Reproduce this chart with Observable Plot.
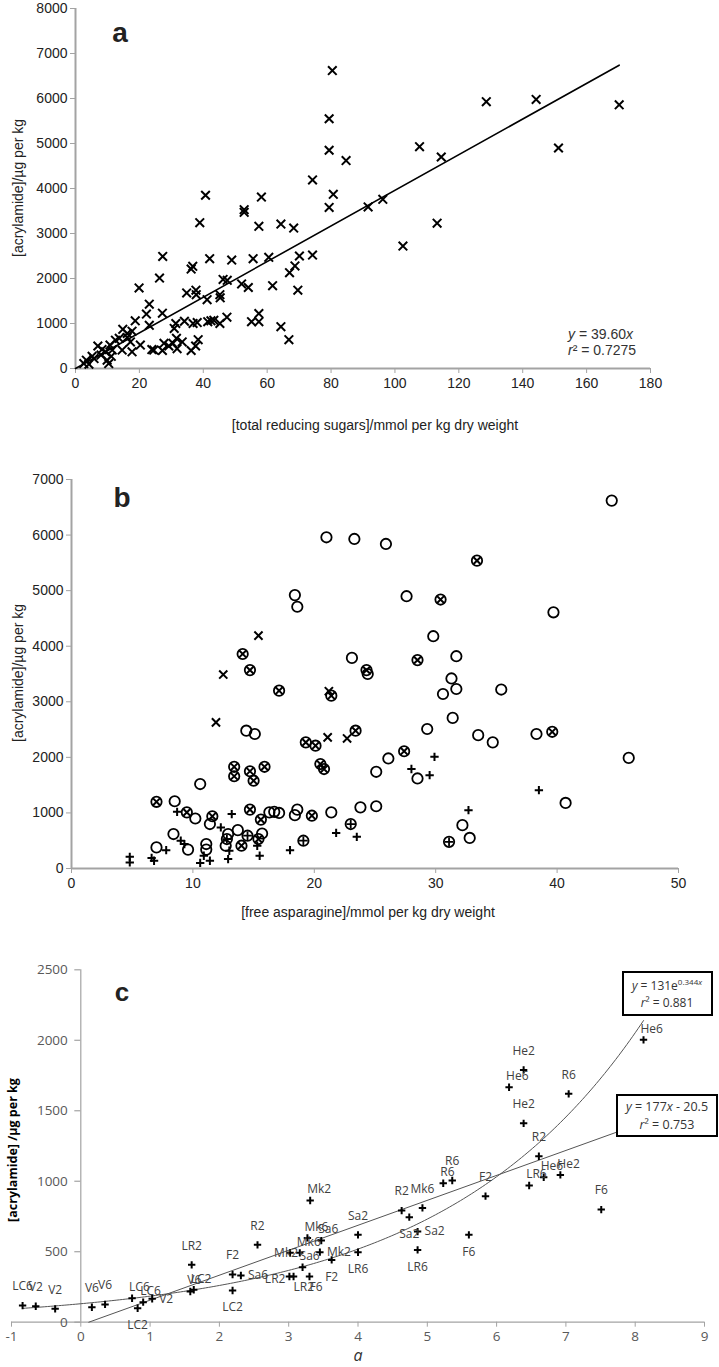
<!DOCTYPE html>
<html><head><meta charset="utf-8">
<script src="https://cdn.jsdelivr.net/npm/d3@7"></script>
<script src="https://cdn.jsdelivr.net/npm/@observablehq/plot@0.6"></script>
<style>
body{margin:0;background:#fff;}
#wrap{position:relative;width:719px;height:1367px;overflow:hidden;background:#fff;}
#wrap svg{position:absolute;left:0;}
</style></head><body><div id="wrap"></div>
<script>
// ---------------- DATA ----------------
// Panel a: total reducing sugars (mmol/kg dw) vs acrylamide (µg/kg)
const aSugar = [80.4,79.4,79.4,84.7,74.2,80.7,79.4,40.7,58.2,52.8,52.8,38.9,57.4,64.3,68.3,27.3,42.0,48.9,55.6,60.5,74.2,70.1,68.7,67.0,69.6,26.3,36.2,36.7,46.2,47.5,52.0,54.1,61.7,19.9,34.8,37.7,37.8,41.2,45.2,45.3,23.1,22.2,27.2,23.1,18.7,31.4,30.9,34.1,36.8,38.1,41.4,42.4,43.3,45.2,47.4,55.1,57.4,57.4,64.3,66.8,23.9,24.5,27.2,27.7,29.2,30.5,31.6,33.4,31.8,36.2,37.6,38.4,14.8,17.7,12.5,13.7,16.2,17.2,10.8,7.0,8.3,9.4,11.5,14.6,17.7,20.3,5.2,3.4,2.6,4.2,9.9,10.4,5.8,11.2,8.0,16.2,96.2,91.6,107.7,114.5,128.6,144.2,170.2,151.2,113.2,102.5];
const aAcrylamide = [6620,5550,4850,4620,4190,3870,3580,3850,3810,3530,3470,3240,3160,3210,3120,2490,2440,2410,2440,2470,2520,2500,2280,2130,1740,2010,2210,2270,1980,1960,1880,1800,1840,1790,1680,1740,1640,1530,1640,1570,1430,1210,1230,960,1060,1000,890,1050,1000,1020,1040,1060,1070,1000,1140,1040,1040,1220,930,640,420,410,400,560,500,560,670,590,440,400,500,640,870,830,630,670,690,590,520,500,420,370,410,410,370,520,270,185,110,96,185,110,220,270,300,780,3760,3590,4930,4700,5930,5980,5860,4900,3230,2720];
const aSlope = 39.60, aR2 = "0.7275";
const aXTicks = [0,20,40,60,80,100,120,140,160,180];
const aYTicks = [0,1000,2000,3000,4000,5000,6000,7000,8000];

// Panel b: free asparagine (mmol/kg dw) vs acrylamide (µg/kg), five marker groups
const bCircleAsn = [21.0,23.3,25.9,18.4,18.6,23.1,24.4,14.4,15.1,25.1,26.1,10.6,8.5,10.2,11.4,16.3,16.7,17.1,18.4,18.6,21.4,23.8,25.1,8.4,7.0,9.6,11.1,11.1,12.7,12.9,13.7,15.7,44.5,27.6,39.7,29.8,31.7,31.3,31.7,30.6,35.4,31.4,29.3,33.5,34.7,38.3,28.5,45.9,40.7,32.2,32.8];
const bCircleAcr = [5960,5930,5840,4920,4710,3790,3500,2480,2420,1740,1980,1520,1210,900,800,1010,1020,1000,960,1060,1010,1100,1120,620,380,340,440,340,410,620,690,630,6620,4900,4610,4180,3820,3420,3230,3140,3220,2710,2510,2400,2270,2420,1620,1990,1180,780,550];
const bOtimesAsn = [14.1,14.7,17.1,21.4,24.3,23.4,19.3,20.1,20.5,20.8,13.4,13.4,14.7,15.0,15.9,7.0,9.5,11.6,14.7,15.6,19.8,14.0,15.4,33.4,30.4,28.5,39.6,27.4];
const bOtimesAcr = [3860,3570,3200,3110,3570,2480,2270,2210,1880,1790,1830,1660,1750,1580,1830,1200,1010,940,1060,880,950,410,530,5540,4840,3750,2460,2110];
const bOplusAsn = [14.5,23.0,19.1,31.1,12.8];
const bOplusAcr = [590,800,500,480,530];
const bPlusAsn = [4.8,4.8,6.6,6.8,7.8,8.7,9.0,9.3,10.6,10.9,11.4,12.3,12.9,13.2,13.0,15.3,15.5,18.0,21.8,23.5,29.9,28.0,29.5,38.5,32.7];
const bPlusAcr = [210,110,190,140,330,1020,500,440,100,230,140,740,170,980,320,410,230,330,640,570,2010,1790,1680,1410,1050];
const bTimesAsn = [15.4,12.5,11.9,21.2,21.1,22.7];
const bTimesAcr = [4190,3490,2630,3190,2360,2340];
const bXTicks = [0,10,20,30,40,50];
const bYTicks = [0,1000,2000,3000,4000,5000,6000,7000];

// Panel c: a vs acrylamide, labelled by variety/sowing
const cLabel = ["LC6","V2","V2","V6","V6","LC6","LC2","LC6","V2","V6","LC2","LR2","LC2","F2","Sa6","R2","Mk2","Mk6","Sa6","Mk2","Mk6","Mk2","Sa6","LR2","LR2","F6","F2","Sa2","LR6","R2","Sa2","Mk6","Sa2","LR6","F6","R6","R6","F2","He6","He2","He6","R6","He2","R2","LR6","He6","He2","F6"];
const cA = [-0.84,-0.65,-0.37,0.16,0.35,0.74,0.82,0.90,1.03,1.58,1.63,1.60,2.19,2.19,2.31,2.55,3.31,3.27,3.47,3.02,3.16,3.45,3.20,3.01,3.07,3.30,3.62,4.00,4.00,4.63,4.74,4.93,4.86,4.86,5.60,5.23,5.36,5.84,8.12,6.39,6.18,7.04,6.39,6.61,6.47,6.68,6.92,7.51];
const cAcrylamide = [118,113,95,106,126,170,99,142,166,218,230,407,225,338,331,549,863,598,579,492,492,497,390,324,324,324,442,620,496,792,745,811,643,513,620,986,1005,894,2003,1790,1667,1620,1411,1177,970,1028,1045,799];
const cLinSlope = 177, cLinIntercept = -20.5, cLinR2 = "0.753";
const cExpA = 131, cExpB = 0.344, cExpR2 = "0.881";
const cXTicks = [-1,0,1,2,3,4,5,6,7,8,9];
const cYTicks = [0,500,1000,1500,2000,2500];

// ---------------- DRAWING ----------------
const wrap = document.getElementById("wrap");
const fontAB = '"Liberation Sans", Arial, sans-serif';
const fontC = '"Open Sans", "Noto Sans", sans-serif';
const axisGray = "#a3a3a3";
const plain = d => String(d);

function addText(svg, o) {
  const t = d3.select(svg).append("text")
    .attr("x", o.x).attr("y", o.y)
    .attr("text-anchor", o.anchor || "middle")
    .attr("font-family", o.font || fontAB)
    .attr("font-size", o.size || 14)
    .attr("font-weight", o.weight || "normal")
    .attr("font-style", o.style || "normal")
    .attr("fill", o.fill || "#222");
  if (o.rotate) t.attr("transform", `rotate(${o.rotate},${o.x},${o.y})`);
  if (o.html) t.html(o.html); else t.text(o.text);
  return t;
}
function place(svg, top) { svg.style.top = top + "px"; wrap.appendChild(svg); }

// ----- Panel a -----
const ptsA = aSugar.map((x, i) => ({x, y: aAcrylamide[i]}));
const fitA = [0, d3.max(aSugar)].map(x => ({x, y: aSlope * x}));
const plotA = Plot.plot({
  width: 719, height: 440,
  marginLeft: 75, marginRight: 69, marginTop: 8, marginBottom: 72,
  style: {fontFamily: fontAB, fontSize: "14px", background: "transparent", overflow: "visible"},
  x: {domain: [0, 180]},
  y: {domain: [0, 8000]},
  marks: [
    Plot.axisX({ticks: aXTicks, tickFormat: plain, tickSize: 5, tickPadding: 5, stroke: axisGray, fill: "#222", label: null}),
    Plot.axisY({ticks: aYTicks, tickFormat: plain, tickSize: 5, tickPadding: 3, stroke: axisGray, fill: "#222", label: null}),
    Plot.ruleY([0], {stroke: axisGray, strokeWidth: 2}),
    Plot.ruleX([0], {stroke: axisGray, strokeWidth: 2}),
    Plot.line(fitA, {x: "x", y: "y", stroke: "#000", strokeWidth: 1.6}),
    Plot.dot(ptsA, {x: "x", y: "y", symbol: "times", r: 4, stroke: "#000", strokeWidth: 2})
  ]
});
place(plotA, 0);
addText(plotA, {x: 120, y: 42, text: "a", size: 28, weight: "bold"});
addText(plotA, {x: 23, y: 188, text: "[acrylamide]/µg per kg", rotate: -90});
addText(plotA, {x: 375, y: 430, text: "[total reducing sugars]/mmol per kg dry weight"});
addText(plotA, {x: 568, y: 339, anchor: "start", fill: "#333", html: `<tspan font-style="italic">y</tspan> = ${aSlope.toFixed(2)}<tspan font-style="italic">x</tspan>`});
addText(plotA, {x: 568, y: 355, anchor: "start", fill: "#333", html: `<tspan font-style="italic">r</tspan>² = ${aR2}`});

// ----- Panel b -----
const toPts = (xs, ys) => xs.map((x, i) => ({x, y: ys[i]}));
const bCircle = toPts(bCircleAsn, bCircleAcr);
const bOtimes = toPts(bOtimesAsn, bOtimesAcr);
const bOplus = toPts(bOplusAsn, bOplusAcr);
const bPlus = toPts(bPlusAsn, bPlusAcr);
const bTimes = toPts(bTimesAsn, bTimesAcr);
const ring = {x: "x", y: "y", r: 5.2, stroke: "#000", strokeWidth: 1.8, fill: "none"};
const plotB = Plot.plot({
  width: 719, height: 490,
  marginLeft: 71, marginRight: 41, marginTop: 39, marginBottom: 62,
  style: {fontFamily: fontAB, fontSize: "14px", background: "transparent", overflow: "visible"},
  x: {domain: [0, 50]},
  y: {domain: [0, 7000]},
  marks: [
    Plot.axisX({ticks: bXTicks, tickFormat: plain, tickSize: 5, tickPadding: 5, stroke: axisGray, fill: "#222", label: null}),
    Plot.axisY({ticks: bYTicks, tickFormat: plain, tickSize: 5, tickPadding: 3, stroke: axisGray, fill: "#222", label: null}),
    Plot.ruleY([0], {stroke: axisGray, strokeWidth: 2}),
    Plot.ruleX([0], {stroke: axisGray, strokeWidth: 2}),
    Plot.dot(bCircle, ring),
    Plot.dot(bOtimes, ring),
    Plot.dot(bOtimes, {x: "x", y: "y", symbol: "times", r: 3.2, stroke: "#000", strokeWidth: 2}),
    Plot.dot(bOplus, ring),
    Plot.dot(bOplus, {x: "x", y: "y", symbol: "plus", r: 2.9, stroke: "#000", strokeWidth: 1.8}),
    Plot.dot(bPlus, {x: "x", y: "y", symbol: "plus", r: 2.8, stroke: "#000", strokeWidth: 2}),
    Plot.dot(bTimes, {x: "x", y: "y", symbol: "times", r: 3.8, stroke: "#000", strokeWidth: 2})
  ]
});
place(plotB, 440);
addText(plotB, {x: 122, y: 67, text: "b", size: 28, weight: "bold"});
addText(plotB, {x: 23, y: 233, text: "[acrylamide]/µg per kg", rotate: -90});
addText(plotB, {x: 368, y: 477, text: "[free asparagine]/mmol per kg dry weight"});

// ----- Panel c -----
const ptsC = cLabel.map((label, i) => ({a: cA[i], y: cAcrylamide[i], label}));
const [cMin, cMax] = d3.extent(cA);
const linC = [-cLinIntercept / cLinSlope, cMax].map(a => ({a, y: cLinSlope * a + cLinIntercept}));
const expC = d3.range(cMin, cMax + 0.001, 0.04).map(a => ({a, y: cExpA * Math.exp(cExpB * a)}));
// label placement around each point (t=above, b=below, r=right, l=left, tr=above-right, br=below-right, c=on point)
const cLabelPos = ["t","t","t","t","t","tr","b","tr","r","tr","tr","t","b","t","r","t","tr","tr","tr","c","tr","r","tr","l","br","br","b","t","b","t","b","t","r","b","b","tr","t","t","tr","t","tr","t","t","t","tr","tr","tr","t"];
const placements = {
  t: {dx: 0, dy: -19, textAnchor: "middle"},
  b: {dx: 0, dy: 17, textAnchor: "middle"},
  r: {dx: 7, dy: 0, textAnchor: "start"},
  l: {dx: -4, dy: 3, textAnchor: "end"},
  tr: {dx: -3, dy: -11, textAnchor: "start"},
  br: {dx: 0, dy: 11, textAnchor: "start"},
  c: {dx: -4, dy: 0, textAnchor: "middle"}
};
ptsC.forEach((d, i) => d.pos = cLabelPos[i]);
const labelMarks = Object.entries(placements).map(([k, p]) =>
  Plot.text(ptsC.filter(d => d.pos === k), {x: "a", y: "y", text: "label", ...p, fill: "#404040", fontSize: 12, fontFamily: fontC})
);
const plotC = Plot.plot({
  width: 719, height: 427,
  marginLeft: 11, marginRight: 15, marginTop: 29.3, marginBottom: 45.3,
  style: {fontFamily: fontC, fontSize: "13.5px", background: "transparent", overflow: "visible"},
  x: {domain: [-1, 9]},
  y: {domain: [0, 2500]},
  marks: [
    Plot.axisX({ticks: cXTicks, tickSize: 5, tickPadding: 4, stroke: axisGray, fill: "#595959", label: null, tickFormat: d => d < 0 ? "-" + Math.abs(d) : String(d)}),
    Plot.axisY({ticks: [], label: null}),
    Plot.ruleY([0], {stroke: axisGray, strokeWidth: 1.2}),
    Plot.ruleX([0], {stroke: axisGray, strokeWidth: 1.2}),
    Plot.ruleY(cYTicks, {y: d => d, x1: 0, x2: 0, insetLeft: -6, stroke: axisGray, strokeWidth: 1.2}),
    Plot.text(cYTicks, {x: 0, y: d => d, text: d => String(d), textAnchor: "end", dx: -13, fill: "#595959"}),
    Plot.line(expC, {x: "a", y: "y", stroke: "#555", strokeWidth: 1}),
    Plot.line(linC, {x: "a", y: "y", stroke: "#555", strokeWidth: 1}),
    Plot.dot(ptsC, {x: "a", y: "y", symbol: "plus", r: 2.5, stroke: "#000", strokeWidth: 2}),
    ...labelMarks
  ]
});
place(plotC, 940);
addText(plotC, {x: 122, y: 61, text: "c", size: 26, weight: "bold"});
addText(plotC, {x: 17, y: 210, text: "[acrylamide] /µg per kg", rotate: -90, font: fontC, size: 12.5, weight: "bold", fill: "#000"});
addText(plotC, {x: 358, y: 421, text: "a", font: fontC, size: 16, style: "italic", fill: "#333"});
// trend-line equation boxes
const g = d3.select(plotC).append("g");
g.append("rect").attr("x", 623).attr("y", 32).attr("width", 89).attr("height", 43).attr("fill", "#fff").attr("stroke", "#000").attr("stroke-width", 2);
addText(plotC, {x: 667, y: 50, font: fontC, size: 12, fill: "#333", html: `<tspan font-style="italic">y</tspan> = ${cExpA}e<tspan font-size="8" dy="-5">${cExpB}<tspan font-style="italic">x</tspan></tspan>`});
addText(plotC, {x: 667, y: 67, font: fontC, size: 12, fill: "#333", html: `<tspan font-style="italic">r</tspan>² = ${cExpR2}`});
g.append("rect").attr("x", 617).attr("y", 155).attr("width", 100).attr("height", 41).attr("fill", "#fff").attr("stroke", "#000").attr("stroke-width", 2);
addText(plotC, {x: 667, y: 171, font: fontC, size: 12.5, fill: "#333", html: `<tspan font-style="italic">y</tspan> = ${cLinSlope}<tspan font-style="italic">x</tspan> - ${Math.abs(cLinIntercept)}`});
addText(plotC, {x: 667, y: 189, font: fontC, size: 12.5, fill: "#333", html: `<tspan font-style="italic">r</tspan>² = ${cLinR2}`});
</script></body></html>
